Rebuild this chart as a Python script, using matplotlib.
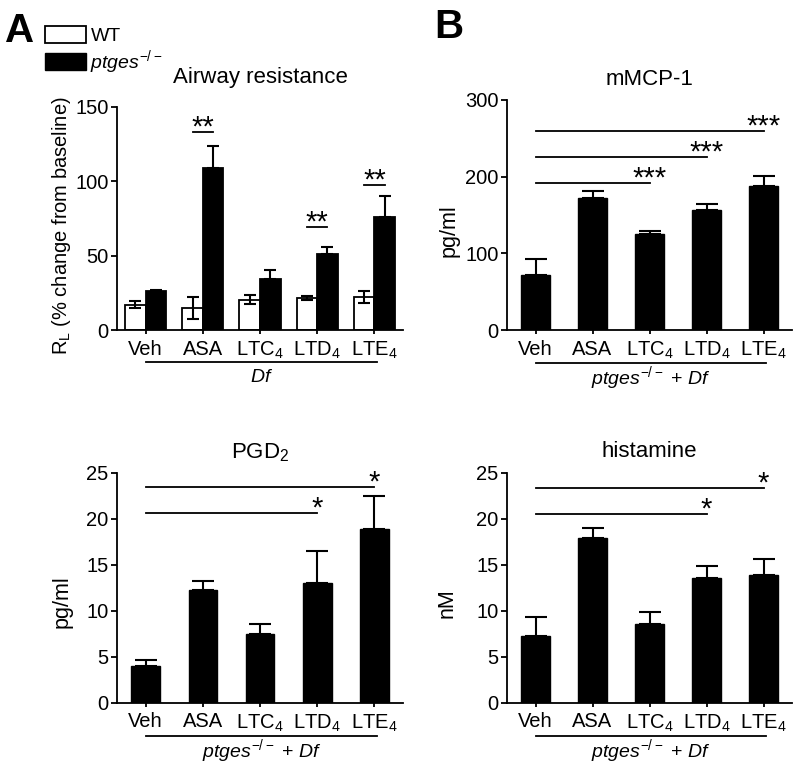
import numpy as np
import matplotlib
matplotlib.use('Agg')
import matplotlib.pyplot as plt
from matplotlib.patches import Patch

plt.rcParams['font.family'] = ['Liberation Sans', 'DejaVu Sans']
plt.rcParams['mathtext.fontset'] = 'custom'
plt.rcParams['mathtext.rm'] = 'Liberation Sans'
plt.rcParams['mathtext.it'] = 'Liberation Sans:italic'
plt.rcParams['mathtext.bf'] = 'Liberation Sans:bold'
plt.rcParams['mathtext.default'] = 'regular'

# данные
groups = ['Veh', 'ASA', r'LTC$_4$', r'LTD$_4$', r'LTE$_4$']

# A: airway resistance
wt_mean = [17, 15, 20.5, 21.5, 22.5]
wt_err = [2.5, 7.5, 3, 1.5, 4]
ko_mean = [26, 109, 34, 51, 76]
ko_err = [0.8, 15, 6.5, 5, 14]
a_sig = [(1, 133, '**'), (3, 69, '**'), (4, 97.5, '**')]

# B: mMCP-1
mcp_mean = [72, 172.5, 125.5, 156.5, 188]
mcp_err = [20, 8.5, 4, 7.5, 13]
mcp_sig = [(2, 192, '***'), (3, 225, '***'), (4, 259.5, '***')]

# C: PGD2
pgd_mean = [4.0, 12.25, 7.5, 13.0, 18.85]
pgd_err = [0.6, 0.95, 1.1, 3.5, 3.65]
pgd_sig = [(3, 20.65, '*'), (4, 23.4, '*')]

# D: histamine
his_mean = [7.3, 17.9, 8.6, 13.6, 13.9]
his_err = [2.05, 1.05, 1.25, 1.3, 1.7]
his_sig = [(3, 20.5, '*'), (4, 23.3, '*')]

x = np.arange(len(groups))
group_label = r'$\mathit{ptges}^{-/-}$ + $\mathit{Df}$'

TICK_FS = 14.5
TITLE_FS = 16
STAR_FS = 21


def style_axes(ax, ymax, step):
    ax.spines['top'].set_visible(False)
    ax.spines['right'].set_visible(False)
    ax.spines['left'].set_linewidth(1.3)
    ax.spines['bottom'].set_linewidth(1.3)
    ax.set_xlim(-0.5, 4.5)
    ax.set_ylim(0, ymax)
    ax.set_yticks(np.arange(0, ymax + step / 2, step))
    ax.set_xticks(x)
    ax.set_xticklabels(groups)
    ax.tick_params(axis='y', length=4, width=1.3, pad=2, labelsize=TICK_FS)
    ax.tick_params(axis='x', length=3, width=1.3, pad=4, labelsize=TICK_FS)


def group_line(ax, x0, x1, text, ytext=-0.21):
    tr = ax.get_xaxis_transform()
    ax.plot([x0, x1], [-0.143, -0.143], color='black', lw=1.3, transform=tr, clip_on=False)
    ax.text((x0 + x1) / 2, ytext, text, transform=tr, ha='center', va='center', fontsize=14)


def star(ax, xi, yv, s):
    ax.annotate(s, xy=(xi, yv), xytext=(0, -2.5), textcoords='offset points',
                ha='center', va='baseline', fontsize=STAR_FS)


def sig_lines(ax, sigs):
    for xi, yv, s in sigs:
        ax.plot([0, xi], [yv, yv], color='black', lw=1.3)
        star(ax, xi, yv, s)


def single_bars(ax, mean, err, capsize):
    ax.bar(x, mean, width=0.5, color='black', edgecolor='black', zorder=2)
    ax.errorbar(x, mean, yerr=[np.zeros(len(err)), err], fmt='none', ecolor='black',
                elinewidth=1.5, capsize=capsize, capthick=1.5, zorder=3)


fig = plt.figure(figsize=(8, 7.68), dpi=100)

# A
axA = fig.add_axes([0.14625, 0.5703, 0.3575, 0.2904])
w = 0.36
axA.bar(x - w / 2, wt_mean, width=w, color='white', edgecolor='black', linewidth=1.3, zorder=2)
axA.bar(x + w / 2, ko_mean, width=w, color='black', edgecolor='black', linewidth=1.3, zorder=2)
axA.errorbar(x - w / 2, wt_mean, yerr=wt_err, fmt='none', ecolor='black',
             elinewidth=1.5, capsize=4.5, capthick=1.5, zorder=3)
axA.errorbar(x + w / 2, ko_mean, yerr=[np.zeros(5), ko_err], fmt='none', ecolor='black',
             elinewidth=1.5, capsize=4.5, capthick=1.5, zorder=3)
style_axes(axA, 150, 50)
for xi, yv, s in a_sig:
    axA.plot([xi - w / 2, xi + w / 2], [yv, yv], color='black', lw=1.3)
    star(axA, xi, yv, s)
axA.set_title('Airway resistance', fontsize=TITLE_FS, pad=17)
axA.set_ylabel(r'R$_L$ (% change from baseline)', fontsize=14.5)
axA.yaxis.set_label_coords(-0.155, 0.47)
group_line(axA, 0.0, 4.05, r'$\mathit{Df}$', ytext=-0.215)

# B
axB = fig.add_axes([0.63375, 0.5703, 0.35625, 0.2995])
single_bars(axB, mcp_mean, mcp_err, 8)
style_axes(axB, 300, 100)
sig_lines(axB, mcp_sig)
axB.set_title('mMCP-1', fontsize=TITLE_FS, pad=11)
axB.set_ylabel('pg/ml', fontsize=15.5)
axB.yaxis.set_label_coords(-0.165, 0.43)
group_line(axB, 0.0, 4.05, group_label)

# C
axC = fig.add_axes([0.14625, 0.0850, 0.3575, 0.2995])
single_bars(axC, pgd_mean, pgd_err, 8)
style_axes(axC, 25, 5)
sig_lines(axC, pgd_sig)
axC.set_title(r'PGD$_2$', fontsize=TITLE_FS, pad=10.5)
axC.set_ylabel('pg/ml', fontsize=15.5)
axC.yaxis.set_label_coords(-0.157, 0.44)
group_line(axC, 0.0, 4.05, group_label)

# D
axD = fig.add_axes([0.63375, 0.0850, 0.35625, 0.2995])
single_bars(axD, his_mean, his_err, 8)
style_axes(axD, 25, 5)
sig_lines(axD, his_sig)
axD.set_title('histamine', fontsize=TITLE_FS, pad=11)
axD.set_ylabel('nM', fontsize=15.5)
axD.yaxis.set_label_coords(-0.172, 0.435)
group_line(axD, 0.0, 4.05, group_label)

# легенда и буквы панелей
fig.legend(handles=[Patch(facecolor='white', edgecolor='black', linewidth=1.3, label='WT'),
                    Patch(facecolor='black', edgecolor='black', label=r'$\mathit{ptges}^{-/-}$')],
           loc='upper left', bbox_to_anchor=(0.056, 0.966), frameon=False, fontsize=14,
           handlelength=2.1, handleheight=0.95, handletextpad=0.25, labelspacing=0.15,
           borderpad=0, borderaxespad=0)
fig.text(0.006, 0.985, 'A', fontsize=29, fontweight='bold', va='top', ha='left')
fig.text(0.543, 0.99, 'B', fontsize=29, fontweight='bold', va='top', ha='left')

fig.savefig('out.png', dpi=100)
